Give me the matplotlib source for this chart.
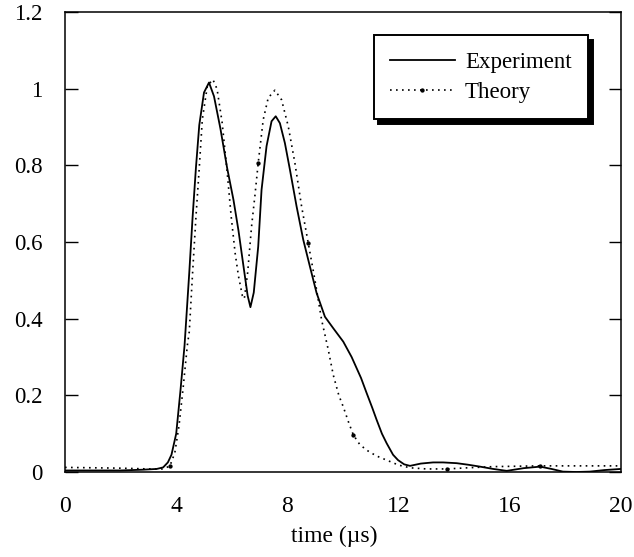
import numpy as np
import matplotlib
matplotlib.use("Agg")
import matplotlib.pyplot as plt

# ---- data ----
exp_t = [0.0, 1.0, 2.0, 2.8, 3.3, 3.53, 3.7, 3.83, 4.0, 4.15, 4.3, 4.47, 4.59, 4.71,
         4.83, 5.0, 5.18, 5.36, 5.59, 5.83, 6.06, 6.24, 6.42, 6.57, 6.67, 6.79, 6.95,
         7.07, 7.25, 7.43, 7.58, 7.73, 7.91, 8.09, 8.33, 8.57, 8.81, 9.05, 9.35, 9.65,
         10.01, 10.31, 10.65, 10.85, 11.05, 11.21, 11.4, 11.57, 11.8, 11.98, 12.2,
         12.41, 12.8, 13.24, 13.6, 14.09, 14.5, 14.93, 15.4, 15.89, 16.5, 17.09, 17.5,
         17.91, 18.4, 18.88, 19.4, 20.0]
exp_v = [0.004, 0.004, 0.004, 0.006, 0.008, 0.012, 0.025, 0.045, 0.10, 0.21, 0.33, 0.52,
         0.665, 0.794, 0.905, 0.99, 1.016, 0.98, 0.896, 0.794, 0.71, 0.63, 0.537, 0.46,
         0.43, 0.468, 0.588, 0.736, 0.85, 0.915, 0.928, 0.91, 0.858, 0.789, 0.693, 0.606,
         0.536, 0.467, 0.405, 0.375, 0.34, 0.30, 0.245, 0.206, 0.168, 0.136, 0.10, 0.075,
         0.045, 0.031, 0.02, 0.016, 0.022, 0.025, 0.025, 0.023, 0.019, 0.014, 0.008,
         0.003, 0.01, 0.014, 0.008, 0.001, 0.0, 0.001, 0.005, 0.008]

th_t = [0.0, 1.0, 2.0, 3.0, 3.5, 3.77, 3.95, 4.1, 4.25, 4.4, 4.47, 4.59, 4.71, 4.83,
        4.94, 5.12, 5.32, 5.47, 5.65, 5.83, 5.98, 6.12, 6.24, 6.38, 6.45, 6.57, 6.71,
        6.83, 6.95, 7.13, 7.31, 7.55, 7.79, 8.03, 8.27, 8.51, 8.75, 8.99, 9.23, 9.47,
        9.65, 9.85, 10.01, 10.2, 10.37, 10.6, 10.85, 11.2, 11.57, 12.0, 12.41, 13.0,
        13.73, 14.5, 15.4, 16.2, 17.09, 18.5, 20.0]
th_v = [0.012, 0.011, 0.010, 0.008, 0.008, 0.015, 0.05, 0.12, 0.22, 0.33, 0.366, 0.52,
        0.665, 0.794, 0.92, 1.007, 1.024, 0.999, 0.913, 0.785, 0.665, 0.571, 0.511,
        0.46, 0.452, 0.52, 0.64, 0.72, 0.806, 0.919, 0.976, 0.996, 0.971, 0.902, 0.806,
        0.693, 0.597, 0.501, 0.397, 0.319, 0.253, 0.20, 0.17, 0.13, 0.097, 0.072, 0.057,
        0.042, 0.031, 0.018, 0.011, 0.008, 0.008, 0.011, 0.014, 0.015, 0.016, 0.016,
        0.016]
th_marker_t = [3.77, 6.95, 8.75, 10.37, 13.73, 17.09]

x_ticks = [0, 4, 8, 12, 16, 20]
y_ticks = [0, 0.2, 0.4, 0.6, 0.8, 1, 1.2]
y_ticklabels = ["0", "0.2", "0.4", "0.6", "0.8", "1", "1.2"]
x_label = "time (\u00b5s)"
labels = ["Experiment", "Theory"]

plt.rcParams['font.family'] = ['Liberation Serif', 'DejaVu Serif']

fig = plt.figure(figsize=(6.34, 5.57), dpi=100)
ax = fig.add_axes([65/634, (557-472)/557, 556/634, 460/557])

ax.plot(exp_t, exp_v, color='black', lw=1.3, label=labels[0])
mk_idx = [int(np.argmin(np.abs(np.array(th_t) - t))) for t in th_marker_t]
ax.plot(th_t, th_v, color='black', lw=1.2, linestyle=(0, (1, 2.6)),
        marker='o', markersize=2.1, markevery=mk_idx, label=labels[1])

ax.set_xlim(0, 20)
ax.set_ylim(0, 1.2)
ax.set_xticks(x_ticks)
ax.set_yticks(y_ticks)
ax.set_yticklabels(y_ticklabels)
ax.tick_params(axis='x', length=0, pad=17, labelsize=17)
ax.tick_params(axis='y', direction='in', length=9, width=1, left=True, right=True,
               pad=16, labelsize=16.5)
for s in ax.spines.values():
    s.set_linewidth(1.1)

ax.set_xlabel(x_label, fontsize=17)
ax.xaxis.set_label_coords(0.484, -0.117)

leg = ax.legend(loc='upper right', bbox_to_anchor=(0.9406, 0.95), borderaxespad=0,
                fontsize=16.5, frameon=True, fancybox=False, edgecolor='black',
                framealpha=1, handlelength=2.8, handletextpad=0.45, labelspacing=0.4,
                borderpad=0.72, numpoints=1,
                shadow={'color': 'black', 'alpha': 1, 'ox': 3.3, 'oy': -3.3})
leg.get_frame().set_linewidth(1.4)

fig.savefig("out.png", dpi=100)
